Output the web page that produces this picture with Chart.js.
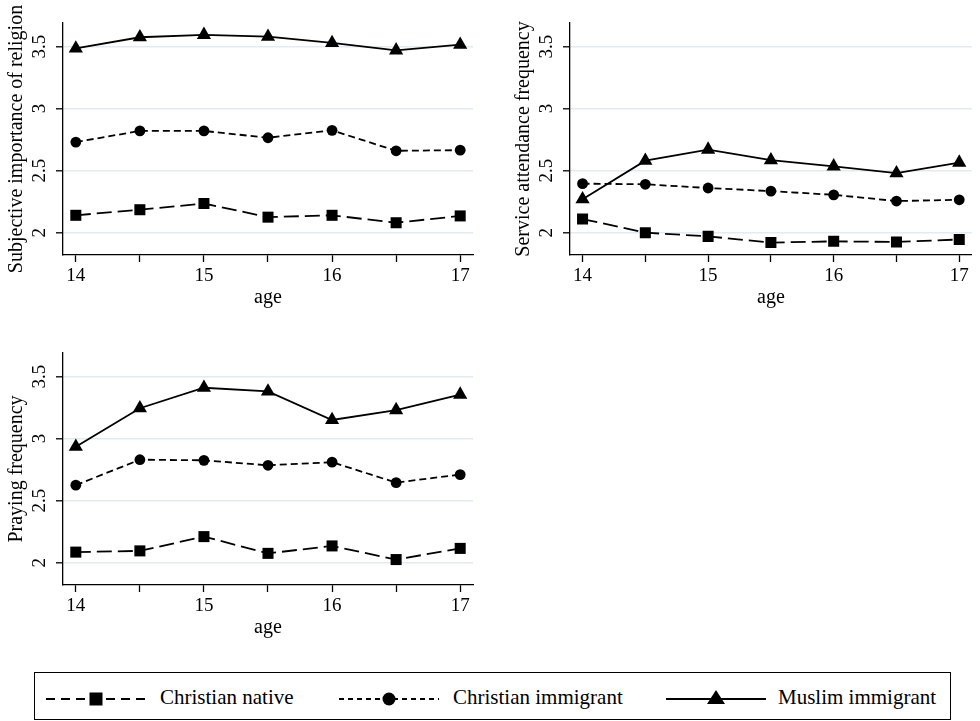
<!DOCTYPE html>
<html>
<head>
<meta charset="utf-8">
<script src="https://cdn.jsdelivr.net/npm/chart.js@4"></script>
<style>
  html, body { margin: 0; padding: 0; background: #fff; }
  body { width: 980px; height: 721px; overflow: hidden; position: relative; font-family: "Liberation Serif", "Times New Roman", serif; }
  .panel { position: absolute; }
  #legend { position: absolute; left: 34px; top: 672px; width: 917px; height: 48px; border: 1px solid #000; box-sizing: border-box; }
  .key { position: absolute; top: 14px; }
  .lab { position: absolute; top: 12px; font-size: 21px; line-height: 24px; color: #000; white-space: nowrap; }
</style>
</head>
<body>
<div class="panel" style="left:0;top:0;width:490px;height:320px"><canvas id="importance"></canvas></div>
<div class="panel" style="left:507px;top:0;width:473px;height:320px"><canvas id="attendance"></canvas></div>
<div class="panel" style="left:0;top:330px;width:490px;height:320px"><canvas id="praying"></canvas></div>

<div id="legend">
  <svg class="key" style="left:11px" width="100" height="24">
    <line x1="0" y1="12" x2="100" y2="12" stroke="#000" stroke-width="1.8" stroke-dasharray="9 6"/>
    <rect x="43.5" y="5.5" width="13" height="13" fill="#000"/>
  </svg>
  <div class="lab" style="left:125px">Christian native</div>
  <svg class="key" style="left:304px" width="100" height="24">
    <line x1="0" y1="12" x2="100" y2="12" stroke="#000" stroke-width="1.8" stroke-dasharray="5 4"/>
    <circle cx="50" cy="12" r="6.5" fill="#000"/>
  </svg>
  <div class="lab" style="left:418px">Christian immigrant</div>
  <svg class="key" style="left:631px" width="100" height="24">
    <line x1="0" y1="12" x2="100" y2="12" stroke="#000" stroke-width="1.8"/>
    <polygon points="50,3 59,17 41,17" fill="#000"/>
  </svg>
  <div class="lab" style="left:743px">Muslim immigrant</div>
</div>

<script>
// Survey waves (age in years) and the tick layout of both axes
const ages = [14, 14.5, 15, 15.5, 16, 16.5, 17];
const xTickValues = [14, 14.5, 15, 15.5, 16, 16.5, 17];
const xTickLabels = ['14', '', '15', '', '16', '', '17'];
const yTickValues = [2, 2.5, 3, 3.5];
const yTickLabels = ['2', '2.5', '3', '3.5'];
const seriesNames = ['Christian native', 'Christian immigrant', 'Muslim immigrant'];

// Subjective importance of religion
const importanceNative    = [2.14, 2.185, 2.235, 2.125, 2.14, 2.08, 2.135];
const importanceImmigrant = [2.73, 2.82, 2.82, 2.765, 2.825, 2.66, 2.665];
const importanceMuslim    = [3.485, 3.575, 3.595, 3.58, 3.53, 3.47, 3.515];

// Service attendance frequency
const attendanceNative    = [2.11, 2.0, 1.97, 1.92, 1.93, 1.925, 1.945];
const attendanceImmigrant = [2.395, 2.39, 2.36, 2.335, 2.305, 2.255, 2.265];
const attendanceMuslim    = [2.27, 2.58, 2.67, 2.585, 2.535, 2.48, 2.565];

// Praying frequency
const prayingNative    = [2.085, 2.095, 2.21, 2.075, 2.135, 2.025, 2.115];
const prayingImmigrant = [2.625, 2.83, 2.825, 2.785, 2.81, 2.645, 2.71];
const prayingMuslim    = [2.935, 3.245, 3.41, 3.38, 3.15, 3.23, 3.355];

const FONT = '"Liberation Serif", "Times New Roman", serif';
const GRID = '#e4ebf0';

function points(values) {
  return ages.map((a, i) => ({ x: a, y: values[i] }));
}

function makePanel(id, yTitle, native, immigrant, muslim, rightPad) {
  const common = { borderColor: '#000', backgroundColor: '#000', borderWidth: 1.8,
                   pointBackgroundColor: '#000', pointBorderWidth: 0, pointHoverRadius: 0, tension: 0 };
  new Chart(document.getElementById(id), {
    type: 'line',
    data: {
      datasets: [
        { ...common, label: seriesNames[0], data: points(native), borderDash: [15, 6], pointStyle: 'rect', pointRadius: 7.8 },
        { ...common, label: seriesNames[1], data: points(immigrant), borderDash: [7, 4], pointStyle: 'circle', pointRadius: 5.4 },
        { ...common, label: seriesNames[2], data: points(muslim), pointStyle: 'triangle', pointRadius: 8.2 }
      ]
    },
    options: {
      responsive: true,
      maintainAspectRatio: false,
      animation: false,
      events: [],
      layout: { padding: { left: 0, top: 23, right: rightPad, bottom: 0 } },
      plugins: { legend: { display: false }, tooltip: { enabled: false } },
      scales: {
        x: {
          type: 'linear', min: 13.9, max: 17.1,
          afterBuildTicks: s => { s.ticks = xTickValues.map(v => ({ value: v })); },
          afterFit: s => { s.height = 65; },
          border: { color: '#000', width: 1.3 },
          grid: { drawOnChartArea: false, drawTicks: true, tickLength: 7, tickColor: '#000', tickWidth: 1.3 },
          ticks: { color: '#000', font: { family: FONT, size: 19 }, padding: 2.5,
                   autoSkip: false, maxRotation: 0,
                   callback: (v) => xTickLabels[xTickValues.indexOf(v)] ?? '' },
          title: { display: true, text: 'age', color: '#000', font: { family: FONT, size: 20 },
                   padding: { top: 0, bottom: 10 } }
        },
        y: {
          type: 'linear', min: 1.82, max: 3.69,
          afterBuildTicks: s => { s.ticks = yTickValues.map(v => ({ value: v })); },
          afterFit: s => { s.width = 63; },
          border: { color: '#000', width: 1.3 },
          grid: { color: GRID, lineWidth: 1.6, drawTicks: true, tickLength: 7, tickColor: '#000', tickWidth: 1.3 },
          ticks: { color: '#000', font: { family: FONT, size: 19 }, padding: 4,
                   minRotation: 90, maxRotation: 90, crossAlign: 'center', autoSkip: false,
                   callback: v => yTickLabels[yTickValues.indexOf(v)] ?? '' },
          title: { display: true, text: yTitle, color: '#000', font: { family: FONT, size: 20 },
                   padding: { top: 4.5, bottom: 0 } }
        }
      }
    }
  });
}

makePanel('importance', 'Subjective importance of religion', importanceNative, importanceImmigrant, importanceMuslim, 17);
makePanel('attendance', 'Service attendance frequency', attendanceNative, attendanceImmigrant, attendanceMuslim, 1);
makePanel('praying', 'Praying frequency', prayingNative, prayingImmigrant, prayingMuslim, 17);
</script>
</body>
</html>
